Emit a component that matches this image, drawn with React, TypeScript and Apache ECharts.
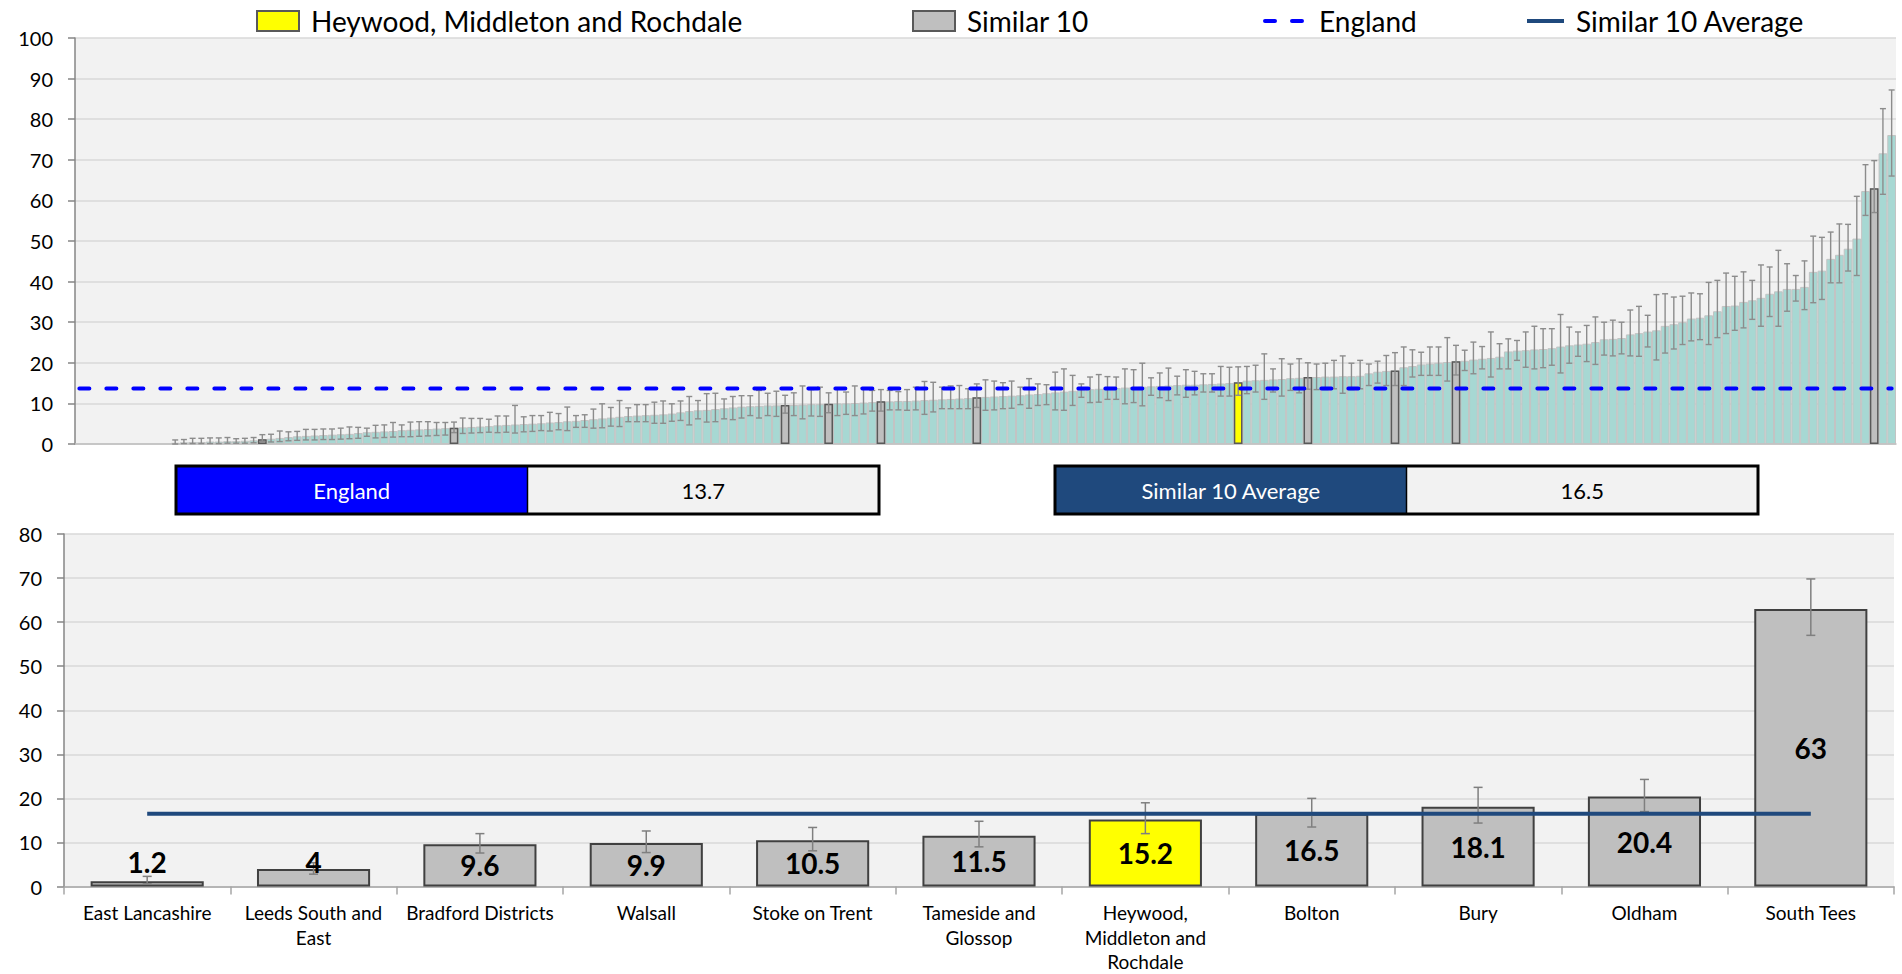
import React, { useEffect, useRef } from 'react';
import * as echarts from 'echarts';

const FONT = 'Lato, "Noto Sans", "DejaVu Sans", sans-serif';

// ---- Top chart: all CCGs ranked (first ranks have no value shown) ----
const leadingEmpty = 11;
const topValues: number[] = [
  0.3, 0.4, 0.5, 0.5, 0.6, 0.6, 0.7, 0.7, 0.8, 0.9,
  1.2, 1.3, 1.5, 1.7, 1.9, 2.0, 2.1, 2.2, 2.3, 2.4,
  2.5, 2.7, 2.9, 3.0, 3.1, 3.2, 3.4, 3.5, 3.6, 3.7,
  3.8, 3.9, 4.0, 4.1, 4.2, 4.3, 4.4, 4.6, 4.7, 4.8,
  4.9, 5.0, 5.1, 5.3, 5.4, 5.6, 5.7, 5.9, 6.1, 6.3,
  6.5, 6.7, 6.9, 7.0, 7.1, 7.2, 7.3, 7.5, 7.8, 8.1,
  8.3, 8.4, 8.6, 8.8, 9.0, 9.2, 9.3, 9.4, 9.5, 9.5,
  9.6, 9.6, 9.7, 9.8, 9.8, 9.9, 10.0, 10.0, 10.1, 10.2,
  10.3, 10.5, 10.5, 10.6, 10.6, 10.7, 10.8, 10.9, 11.0, 11.1,
  11.2, 11.3, 11.5, 11.6, 11.7, 11.8, 11.9, 12.0, 12.2, 12.3,
  12.5, 12.7, 12.9, 13.1, 13.3, 13.5, 13.6, 13.7, 13.8, 13.9,
  14.0, 14.1, 14.2, 14.3, 14.4, 14.5, 14.6, 14.6, 14.7, 14.8,
  14.9, 15.0, 15.2, 15.6, 15.7, 15.8, 15.9, 16.0, 16.2, 16.3,
  16.5, 16.5, 16.6, 16.6, 16.7, 16.7, 16.8, 17.4, 17.8, 18.0,
  18.1, 18.9, 19.2, 19.6, 19.8, 20.0, 20.2, 20.4, 20.5, 20.8,
  21.0, 21.2, 21.5, 22.8, 23.0, 23.1, 23.3, 23.4, 23.6, 24.0,
  24.3, 24.5, 24.7, 25.1, 25.8, 25.9, 26.1, 27.0, 27.3, 27.7,
  28.0, 29.1, 29.5, 30.0, 30.9, 31.1, 31.7, 32.7, 34.0, 34.1,
  35.0, 35.4, 36.0, 37.0, 37.6, 38.2, 38.2, 38.7, 42.4, 42.7,
  45.6, 46.6, 48.1, 50.6, 62.3, 63.0, 71.6, 76.1,
];
const topLower: number[] = [
  0.0, 0.1, 0.1, 0.1, 0.1, 0.1, 0.2, 0.2, 0.2, 0.3,
  0.6, 0.5, 0.6, 0.8, 0.9, 1.0, 1.0, 1.1, 1.1, 1.2,
  1.3, 1.4, 1.9, 1.5, 1.6, 1.7, 1.8, 1.8, 1.9, 2.0,
  2.1, 2.2, 2.8, 2.6, 2.7, 2.8, 2.9, 2.8, 2.9, 2.7,
  3.0, 3.1, 3.3, 3.2, 3.5, 3.3, 4.1, 4.1, 3.9, 4.0,
  4.4, 4.3, 5.5, 5.5, 5.5, 5.1, 5.1, 5.6, 5.8, 4.7,
  6.2, 5.4, 5.5, 6.2, 6.0, 6.4, 7.0, 6.4, 7.0, 6.8,
  7.6, 7.0, 6.2, 6.9, 6.8, 7.7, 7.0, 7.3, 7.0, 7.4,
  8.1, 8.1, 8.4, 8.4, 8.3, 8.4, 7.3, 7.9, 8.7, 8.7,
  8.7, 8.7, 9.0, 8.3, 8.4, 8.7, 8.8, 9.7, 8.8, 9.5,
  9.7, 8.4, 8.3, 9.5, 11.5, 10.2, 10.3, 11.0, 11.0, 9.9,
  10.2, 9.4, 12.0, 11.4, 10.7, 12.1, 11.5, 12.1, 12.8, 12.8,
  11.8, 11.8, 12.0, 12.4, 12.8, 11.0, 12.8, 11.8, 13.2, 12.6,
  13.5, 13.4, 13.4, 13.6, 12.5, 13.4, 13.6, 14.4, 15.0, 14.4,
  14.4, 14.4, 16.5, 16.9, 16.9, 16.9, 15.5, 17.0, 18.1, 17.3,
  18.5, 16.5, 18.5, 18.5, 20.6, 18.9, 18.5, 18.8, 19.4, 17.5,
  19.9, 21.6, 20.3, 19.6, 21.9, 21.7, 22.2, 21.7, 21.6, 23.9,
  20.7, 22.4, 23.4, 24.5, 25.4, 25.7, 24.5, 26.2, 27.2, 28.0,
  28.6, 30.7, 29.0, 31.4, 29.0, 32.7, 35.2, 33.1, 34.8, 35.6,
  39.7, 39.7, 42.6, 41.5, 56.3, 57.0, 61.5, 66.0,
];
const topUpper: number[] = [
  1.0, 1.1, 1.4, 1.4, 1.5, 1.5, 1.6, 1.3, 1.4, 1.6,
  2.3, 2.4, 3.2, 3.0, 3.1, 3.6, 3.6, 3.7, 3.7, 3.9,
  4.2, 4.1, 3.9, 4.6, 4.7, 5.3, 4.7, 5.4, 5.5, 5.5,
  5.3, 5.3, 5.4, 6.4, 6.3, 6.3, 6.1, 6.9, 6.9, 9.5,
  6.7, 7.0, 7.0, 7.8, 7.5, 9.1, 7.0, 7.2, 8.6, 9.9,
  9.0, 10.7, 8.9, 9.7, 9.7, 10.3, 10.6, 9.9, 10.6, 11.7,
  10.7, 12.4, 12.5, 11.1, 11.7, 11.9, 11.9, 13.2, 12.5, 13.0,
  12.0, 12.6, 14.3, 13.4, 14.0, 12.6, 13.8, 12.8, 14.3, 13.8,
  13.2, 13.4, 13.2, 12.9, 13.4, 14.0, 15.4, 15.2, 14.0, 14.3,
  14.4, 13.6, 14.8, 15.8, 15.5, 15.1, 15.5, 14.0, 16.1, 14.8,
  14.6, 17.7, 18.5, 16.9, 14.8, 16.5, 17.1, 16.6, 16.5, 18.5,
  18.3, 19.9, 16.3, 17.5, 18.7, 16.7, 18.3, 17.9, 17.3, 17.3,
  19.1, 18.9, 19.0, 19.1, 19.4, 22.2, 18.5, 21.0, 19.7, 21.0,
  20.0, 19.7, 19.9, 20.6, 21.7, 19.9, 20.6, 19.7, 20.4, 21.8,
  22.5, 23.9, 23.2, 22.6, 23.9, 23.9, 26.2, 24.3, 23.1, 25.1,
  24.0, 27.6, 24.7, 25.9, 25.5, 27.6, 29.0, 28.4, 28.4, 31.9,
  28.8, 27.6, 29.2, 31.3, 30.0, 30.5, 30.0, 33.0, 33.9, 31.7,
  36.8, 37.0, 36.2, 36.4, 37.2, 37.0, 39.8, 40.3, 42.1, 41.3,
  42.4, 40.3, 44.1, 43.6, 47.7, 44.4, 41.5, 45.1, 51.2, 50.9,
  52.2, 54.2, 54.1, 61.0, 68.8, 69.8, 82.6, 87.2,
];

const englandValue = 13.7;
const similarAverage = 16.5;

// ---- Similar 10 (bottom chart) ----
const similarNames = [
  'East Lancashire', 'Leeds South and East', 'Bradford Districts', 'Walsall', 'Stoke on Trent',
  'Tameside and Glossop', 'Heywood, Middleton and Rochdale', 'Bolton', 'Bury', 'Oldham', 'South Tees',
];
const similarTickLabels = [
  'East Lancashire', 'Leeds South and\nEast', 'Bradford Districts', 'Walsall', 'Stoke on Trent',
  'Tameside and\nGlossop', 'Heywood,\nMiddleton and\nRochdale', 'Bolton', 'Bury', 'Oldham', 'South Tees',
];
const similarValues = [1.2, 4, 9.6, 9.9, 10.5, 11.5, 15.2, 16.5, 18.1, 20.4, 63];
const similarLower = [0.6, 2.8, 7.6, 7.7, 8.1, 9.0, 12.0, 13.5, 14.4, 17.0, 57.0];
const similarUpper = [2.3, 5.4, 12.0, 12.6, 13.4, 14.8, 19.0, 20.0, 22.5, 24.3, 69.8];
// rank position (0-based category) of each similar CCG in the top chart
const similarRank = [21, 43, 81, 86, 92, 103, 133, 141, 151, 158, 206];
const highlightIndex = 6;
const highlightName = similarNames[highlightIndex];

const errorBar = (cap: number, color: string, width: number) => (_params: any, api: any) => {
  const x = api.value(0);
  const lo = api.coord([x, api.value(1)]);
  const hi = api.coord([x, api.value(2)]);
  const style = { stroke: color, lineWidth: width };
  return {
    type: 'group',
    children: [
      { type: 'line', shape: { x1: lo[0], y1: lo[1], x2: hi[0], y2: hi[1] }, style },
      { type: 'line', shape: { x1: hi[0] - cap, y1: hi[1], x2: hi[0] + cap, y2: hi[1] }, style },
      { type: 'line', shape: { x1: lo[0] - cap, y1: lo[1], x2: lo[0] + cap, y2: lo[1] }, style },
    ],
  };
};

function buildOption(): any {
  const topCount = leadingEmpty + topValues.length;
  const topCats = Array.from({ length: topCount }, (_, i) => String(i + 1));
  const topBarData = [...Array(leadingEmpty).fill(null), ...topValues];
  const grayTop = topCats.map((_, i) => {
    const k = similarRank.indexOf(i);
    return k >= 0 && k !== highlightIndex ? similarValues[k] : null;
  });
  const yellowTop = topCats.map((_, i) =>
    i === similarRank[highlightIndex] ? similarValues[highlightIndex] : null
  );
  const topErr = topValues.map((_, k) => [leadingEmpty + k, topLower[k], topUpper[k]]);
  const bottomErr = similarValues.map((_, k) => [k, similarLower[k], similarUpper[k]]);

  const yAxisCommon = {
    axisLine: { show: true, lineStyle: { color: '#868686', width: 1.5 } },
    axisTick: { show: true, length: 7, lineStyle: { color: '#868686', width: 1.5 } },
    axisLabel: { fontSize: 20, color: '#000', margin: 22, fontFamily: FONT },
    splitLine: { show: true, lineStyle: { color: '#D9D9D9', width: 1.5 } },
  };

  const legendCommon = {
    top: 6,
    padding: 0,
    itemWidth: 42,
    itemHeight: 20,
    selectedMode: false,
    textStyle: { fontSize: 28, color: '#000', fontFamily: FONT, lineHeight: 30, padding: [0, 0, 0, 7] },
  };

  const boxes = [
    { label: 'England', value: englandValue, color: '#0000FF', x: 176 },
    { label: 'Similar 10 Average', value: similarAverage, color: '#1F497D', x: 1055 },
  ];
  const boxY = 466;
  const boxH = 48;
  const half = 351.5;
  const graphic: any[] = [];
  boxes.forEach((b) => {
    graphic.push(
      { type: 'rect', shape: { x: b.x, y: boxY, width: half, height: boxH }, style: { fill: b.color } },
      { type: 'rect', shape: { x: b.x + half, y: boxY, width: half, height: boxH }, style: { fill: '#F2F2F2' } },
      { type: 'line', shape: { x1: b.x + half, y1: boxY, x2: b.x + half, y2: boxY + boxH }, style: { stroke: '#000', lineWidth: 1.5 } },
      { type: 'rect', shape: { x: b.x, y: boxY, width: half * 2, height: boxH }, style: { fill: 'none', stroke: '#000', lineWidth: 3 } },
      {
        type: 'text', x: b.x + half / 2, y: boxY + boxH / 2,
        style: { text: b.label, fill: '#fff', font: `22px ${FONT}`, align: 'center', verticalAlign: 'middle' },
      },
      {
        type: 'text', x: b.x + half * 1.5, y: boxY + boxH / 2,
        style: { text: String(b.value), fill: '#000', font: `22px ${FONT}`, align: 'center', verticalAlign: 'middle' },
      }
    );
  });

  return {
    animation: false,
    textStyle: { fontFamily: FONT },
    legend: [
      { ...legendCommon, left: 256, icon: 'rect', data: [highlightName] },
      { ...legendCommon, left: 912, icon: 'rect', data: ['Similar 10'] },
      {
        ...legendCommon, left: 1263, data: ['England'], itemStyle: { opacity: 0 },
        lineStyle: { width: 4, color: '#0000FF', type: [10, 17], cap: 'round' },
      },
      {
        ...legendCommon, left: 1525, itemWidth: 37, data: ['Similar 10 Average'], itemStyle: { opacity: 0 },
        lineStyle: { width: 4, color: '#1F497D' },
      },
    ],
    grid: [
      { left: 75, right: 6, top: 38, height: 406, show: true, backgroundColor: '#F2F2F2', borderWidth: 0 },
      { left: 64, right: 8, top: 534, height: 353.5, show: true, backgroundColor: '#F2F2F2', borderWidth: 0 },
    ],
    xAxis: [
      {
        gridIndex: 0, type: 'category', data: topCats,
        axisLine: { show: true, lineStyle: { color: '#BFBFBF', width: 1.5 } },
        axisTick: { show: false }, axisLabel: { show: false }, splitLine: { show: false },
      },
      { gridIndex: 0, type: 'category', data: topCats, show: false },
      {
        gridIndex: 1, type: 'category', data: similarTickLabels,
        axisLine: { show: true, lineStyle: { color: '#A6A6A6', width: 1.5 } },
        axisTick: { show: true, length: 8, lineStyle: { color: '#A6A6A6', width: 1.5 } },
        axisLabel: { fontSize: 19, color: '#000', lineHeight: 24.5, margin: 14, interval: 0, fontFamily: FONT },
      },
    ],
    yAxis: [
      { gridIndex: 0, type: 'value', min: 0, max: 100, interval: 10, ...yAxisCommon },
      { gridIndex: 1, type: 'value', min: 0, max: 80, interval: 10, ...yAxisCommon },
    ],
    graphic,
    series: [
      {
        name: 'All CCGs', type: 'bar', xAxisIndex: 0, yAxisIndex: 0, data: topBarData,
        barWidth: '100%', z: 1,
        itemStyle: { color: '#A7D8D3', borderColor: '#C3C3C3', borderWidth: 1 },
        emphasis: { disabled: true },
      },
      {
        name: 'Similar 10', type: 'bar', xAxisIndex: 1, yAxisIndex: 0, data: grayTop,
        barWidth: '100%', barGap: '-100%', z: 2,
        itemStyle: { color: '#BFBFBF', borderColor: '#595959', borderWidth: 1.5 },
        emphasis: { disabled: true },
      },
      {
        name: highlightName, type: 'bar', xAxisIndex: 1, yAxisIndex: 0, data: yellowTop,
        barWidth: '100%', barGap: '-100%', z: 2,
        itemStyle: { color: '#FFFF00', borderColor: '#595959', borderWidth: 1.5 },
        emphasis: { disabled: true },
      },
      {
        name: 'topErrors', type: 'custom', xAxisIndex: 0, yAxisIndex: 0, data: topErr,
        renderItem: errorBar(3, '#8C8C8C', 1.4), encode: { x: 0, y: [1, 2] }, z: 4, silent: true,
      },
      {
        name: 'England', type: 'line', xAxisIndex: 0, yAxisIndex: 0,
        data: topCats.map(() => englandValue), symbol: 'none', z: 6, silent: true,
        lineStyle: { color: '#0000FF', width: 4, type: [10, 17], cap: 'round' },
        itemStyle: { color: '#0000FF' },
      },
      {
        name: 'Similar 10', type: 'bar', xAxisIndex: 2, yAxisIndex: 1,
        data: similarValues.map((v, i) => (i === highlightIndex ? null : v)),
        barWidth: '68%', barGap: '-100%', z: 2,
        itemStyle: { color: '#BFBFBF', borderColor: '#404040', borderWidth: 2 },
        emphasis: { disabled: true },
      },
      {
        name: highlightName, type: 'bar', xAxisIndex: 2, yAxisIndex: 1,
        data: similarValues.map((v, i) => (i === highlightIndex ? v : null)),
        barWidth: '68%', barGap: '-100%', z: 2,
        itemStyle: { color: '#FFFF00', borderColor: '#404040', borderWidth: 2 },
        emphasis: { disabled: true },
      },
      {
        name: 'bottomErrors', type: 'custom', xAxisIndex: 2, yAxisIndex: 1, data: bottomErr,
        renderItem: errorBar(4.5, '#7F7F7F', 1.5), encode: { x: 0, y: [1, 2] }, z: 4, silent: true,
      },
      {
        name: 'Similar 10 Average', type: 'line', xAxisIndex: 2, yAxisIndex: 1,
        data: similarValues.map(() => similarAverage), symbol: 'none', z: 5, silent: true,
        lineStyle: { color: '#1F497D', width: 4 }, itemStyle: { color: '#1F497D' },
      },
      {
        name: 'values', type: 'bar', xAxisIndex: 2, yAxisIndex: 1,
        data: similarValues.map((v) =>
          v < 5
            ? { value: v, label: { position: 'insideBottom', distance: 11 } }
            : { value: v }
        ),
        barWidth: '68%', barGap: '-100%', z: 7, silent: true,
        itemStyle: { color: 'rgba(0,0,0,0)' },
        label: {
          show: true, position: 'inside', fontSize: 28, fontWeight: 'bold', color: '#000', fontFamily: FONT,
        },
      },
    ],
  };
}

export default function App() {
  const ref = useRef<HTMLDivElement>(null);
  useEffect(() => {
    if (!ref.current) return;
    const chart = echarts.init(ref.current, null, { renderer: 'svg' });
    chart.setOption(buildOption());
    return () => chart.dispose();
  }, []);
  return (
    <div
      ref={ref}
      style={{ position: 'fixed', left: 0, top: 0, width: 1902, height: 974, background: '#fff' }}
    />
  );
}
